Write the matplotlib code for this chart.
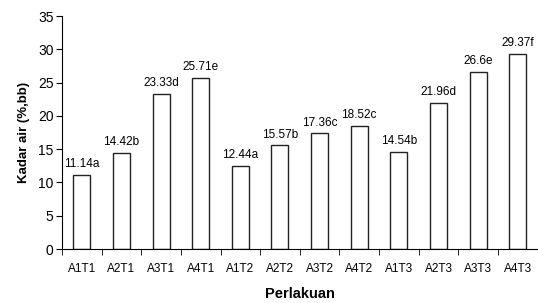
import matplotlib
matplotlib.use('Agg')
import matplotlib.pyplot as plt
import numpy as np

plt.rcParams['font.family'] = ['Liberation Sans', 'DejaVu Sans']

perlakuan = ['A1T1', 'A2T1', 'A3T1', 'A4T1', 'A1T2', 'A2T2', 'A3T2', 'A4T2',
             'A1T3', 'A2T3', 'A3T3', 'A4T3']
kadar_air = [11.14, 14.42, 23.33, 25.71, 12.44, 15.57, 17.36, 18.52,
             14.54, 21.96, 26.6, 29.37]
notasi = ['a', 'b', 'd', 'e', 'a', 'b', 'c', 'c', 'b', 'd', 'e', 'f']

fig = plt.figure(figsize=(5.38, 3.03), dpi=100)
ax = fig.add_axes([0.1152, 0.178, 0.884, 0.769])

x = np.arange(len(perlakuan))
bars = ax.bar(x, kadar_air, width=0.43, color='white', edgecolor='#222222', linewidth=1.0)

for b, v, n in zip(bars, kadar_air, notasi):
    ax.annotate('{}{}'.format(v, n), (b.get_x() + b.get_width() / 2, v),
                xytext=(0, 3.5), textcoords='offset points',
                ha='center', va='bottom', fontsize=8.5)

ax.set_xlim(-0.5, len(perlakuan) - 0.5)
ax.set_ylim(0, 35)
ax.set_yticks(range(0, 36, 5))
ax.tick_params(axis='y', labelsize=10, length=4, direction='out', pad=2)
ax.set_xticks(x)
ax.set_xticklabels(perlakuan)
ax.set_xticks(np.arange(-0.5, len(perlakuan), 1), minor=True)
ax.tick_params(axis='x', which='major', length=0, labelsize=8.5, pad=10)
ax.tick_params(axis='x', which='minor', length=4, direction='out')

ax.spines['top'].set_visible(False)
ax.spines['right'].set_visible(False)

ax.set_ylabel('Kadar air (%,bb)', fontsize=9.5, fontweight='bold', labelpad=6)
ax.set_xlabel('Perlakuan', fontsize=10.5, fontweight='bold', labelpad=9)

fig.savefig('out.png', dpi=100)
